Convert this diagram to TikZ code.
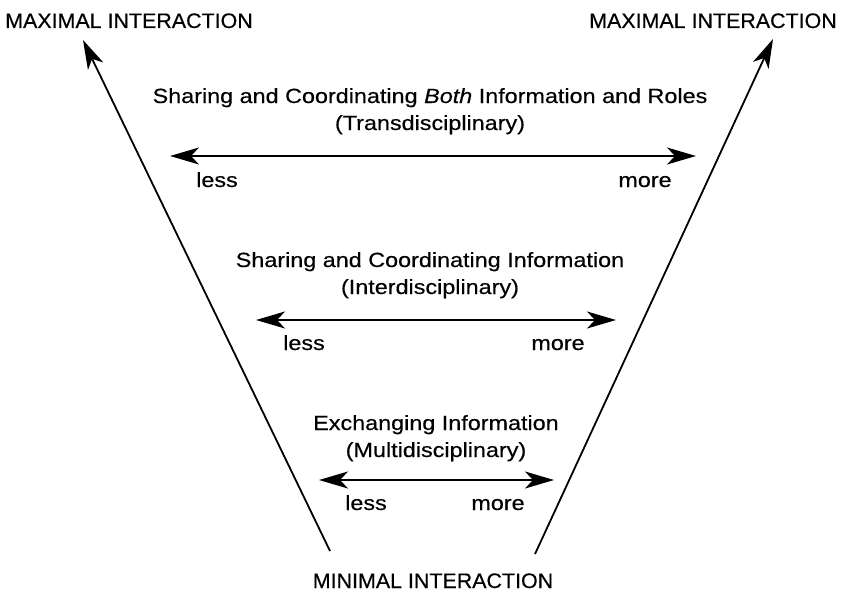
\documentclass[tikz,border=0pt]{standalone}
\usepackage{fontspec}
\setmainfont{Liberation Sans}
\newfontfamily\bodyfont[FakeStretch=1.14,FakeBold=0.4]{Liberation Sans}
\newfontfamily\capsfont[FakeStretch=1.02,FakeBold=0.4]{Liberation Sans}
\usetikzlibrary{arrows.meta}
\begin{document}
\begin{tikzpicture}[x=1pt,y=-1pt,
  >={Stealth[length=29pt,width=17pt,inset=8pt]},
  lbl/.style={inner sep=0pt,anchor=base,font=\bodyfont\fontsize{20.5}{27}\selectfont},
  captext/.style={inner sep=0pt,anchor=base,font=\capsfont\fontsize{21}{25}\selectfont},
  axisline/.style={line width=1.8pt,->},
  spanline/.style={line width=1.8pt,<->}]
\useasboundingbox (0,0) rectangle (851,594);
% outer funnel
\node[captext] (maxl) at (129,28) {MAXIMAL INTERACTION};
\node[captext] (maxr) at (713,28) {MAXIMAL INTERACTION};
\node[captext] (min) at (433,588) {MINIMAL INTERACTION};
\coordinate (lbot) at (330,551);
\coordinate (rbot) at (535,554);
\coordinate (ltip) at (83,40);
\coordinate (rtip) at (773,39);
\draw[axisline] (lbot) -- (ltip);
\draw[axisline] (rbot) -- (rtip);
% transdisciplinary level
\node[lbl] (t1a) at (430,103) {Sharing and Coordinating \textit{Both} Information and Roles};
\node[lbl] (t1b) at (430,130) {(Transdisciplinary)};
\coordinate (t1l) at (170,156);
\coordinate (t1r) at (696,156);
\draw[spanline] (t1l) -- (t1r);
\node[lbl] (t1less) at (217,187) {less};
\node[lbl] (t1more) at (645,187) {more};
% interdisciplinary level
\node[lbl] (t2a) at (430,267) {Sharing and Coordinating Information};
\node[lbl] (t2b) at (430,294) {(Interdisciplinary)};
\coordinate (t2l) at (256,320);
\coordinate (t2r) at (616,320);
\draw[spanline] (t2l) -- (t2r);
\node[lbl] (t2less) at (304,350) {less};
\node[lbl] (t2more) at (558,350) {more};
% multidisciplinary level
\node[lbl] (t3a) at (436,430) {Exchanging Information};
\node[lbl] (t3b) at (436,457) {(Multidisciplinary)};
\coordinate (t3l) at (319,480);
\coordinate (t3r) at (554,480);
\draw[spanline] (t3l) -- (t3r);
\node[lbl] (t3less) at (366,510) {less};
\node[lbl] (t3more) at (498,510) {more};
\end{tikzpicture}
\end{document}
